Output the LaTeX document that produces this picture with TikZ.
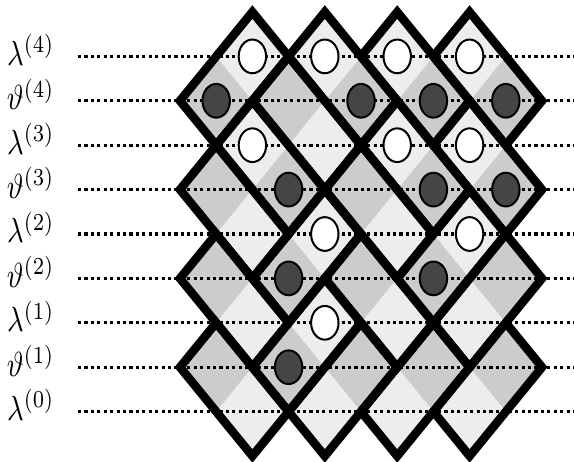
\documentclass[tikz,border=0pt]{standalone}
\usepackage{amsmath}
\usepackage{xcolor}
\usepackage{tikz}
\usetikzlibrary{calc}
\definecolor{LightTile}{gray}{0.93}
\definecolor{MidTile}{gray}{0.8}
\definecolor{DarkSpin}{gray}{0.27}

\begin{document}
\begin{tikzpicture}[x=12.67pt, y=-15.54pt,
		tile/.style={line width=3pt, line join=miter},
		slice/.style={line width=1.1pt, dash pattern=on 1.1pt off 1.15pt},
		spin/.style={line width=0.7pt},
		rowlabel/.style={anchor=base east, inner sep=0pt, yscale=1.22}]
	\useasboundingbox (-4.972,-0.27) rectangle (10.884,10.113);
	\foreach \x/\y in {4/1, 6/1, 8/1, 3/2, 2/3, 1/4, 6/3, 8/3, 5/4, 1/6, 5/6, 1/8}
		\fill[MidTile] (\x,{\y-1}) -- ({\x+2},{\y+1}) -- ({\x+1},{\y+2}) -- ({\x-1},\y) -- cycle;
	\foreach \x/\y in {2/1, 4/5, 4/7, 8/5, 9/6, 5/8, 7/8, 9/8}
		\fill[MidTile] (\x,{\y-1}) -- ({\x+1},\y) -- ({\x-1},{\y+2}) -- ({\x-2},{\y+1}) -- cycle;
	\foreach \y in {1,3,...,9}
		\foreach \x in {2,4,6,8}
			\fill[LightTile] (\x,{\y-1}) -- ({\x+1},\y) -- (\x,{\y+1}) -- ({\x-1},\y) -- cycle;
	\foreach \k in {0,...,4} {
		\node[rowlabel] (lam\k) at (-3.45,{9.2-2*\k}) {$\lambda^{(\k)}$};
		\draw[slice] (-2.818,{9-2*\k}) -- (10.884,{9-2*\k});
	}
	\foreach \k in {1,...,4} {
		\node[rowlabel] (theta\k) at (-3.45,{10.2-2*\k}) {$\vartheta^{(\k)}$};
		\draw[slice] (-2.818,{10-2*\k}) -- (10.884,{10-2*\k});
	}
	\foreach \x/\y in {4/1, 6/1, 8/1, 3/2, 2/3, 1/4, 6/3, 8/3, 5/4, 1/6, 5/6, 1/8}
		\draw[tile] (\x,{\y-1}) -- ({\x+2},{\y+1}) -- ({\x+1},{\y+2}) -- ({\x-1},\y) -- cycle;
	\foreach \x/\y in {2/1, 4/5, 4/7, 8/5, 9/6, 5/8, 7/8, 9/8}
		\draw[tile] (\x,{\y-1}) -- ({\x+1},\y) -- ({\x-1},{\y+2}) -- ({\x-2},{\y+1}) -- cycle;
	\foreach \x/\y in {2/1, 4/1, 6/1, 8/1, 2/3, 6/3, 8/3, 4/5, 8/5, 4/7}
		\draw[spin, fill=white] (\x,\y) ellipse (4.8pt and 5.9pt);
	\foreach \x/\y in {1/2, 5/2, 7/2, 9/2, 3/4, 7/4, 9/4, 3/6, 7/6, 3/8}
		\draw[spin, fill=DarkSpin] (\x,\y) ellipse (4.8pt and 5.9pt);
\end{tikzpicture}
\end{document}
